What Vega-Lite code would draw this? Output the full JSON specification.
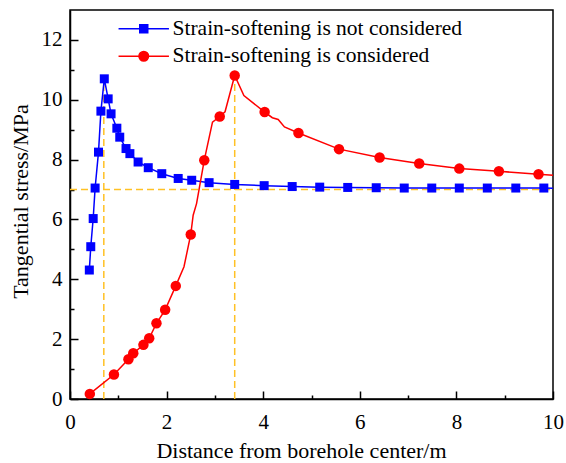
{
  "$schema": "https://vega.github.io/schema/vega-lite/v6.json",
  "width": 483,
  "height": 389,
  "autosize": "none",
  "padding": {"left": 70, "top": 10, "right": 13, "bottom": 64},
  "background": "white",
  "config": {
    "view": {"stroke": "black", "strokeWidth": 1.5},
    "font": "'Liberation Serif', 'Times New Roman', Times, serif",
    "axis": {
      "labelFont": "'Liberation Serif', 'Times New Roman', Times, serif",
      "titleFont": "'Liberation Serif', 'Times New Roman', Times, serif",
      "labelColor": "black",
      "titleColor": "black",
      "domainColor": "black",
      "tickColor": "black",
      "grid": false,
      "labelFlush": false,
      "labelFontSize": 21,
      "titleFontSize": 22,
      "titleFontWeight": "normal",
      "domainWidth": 1.5,
      "tickWidth": 1.5
    }
  },
  "datasets": {
    "stress": [
      {"series": "Strain-softening is not considered", "kind": "marker", "x": 0.40, "y": 4.31},
      {"series": "Strain-softening is not considered", "kind": "marker", "x": 0.43, "y": 5.09},
      {"series": "Strain-softening is not considered", "kind": "marker", "x": 0.48, "y": 6.03},
      {"series": "Strain-softening is not considered", "kind": "marker", "x": 0.52, "y": 7.05},
      {"series": "Strain-softening is not considered", "kind": "marker", "x": 0.59, "y": 8.25},
      {"series": "Strain-softening is not considered", "kind": "marker", "x": 0.64, "y": 9.62},
      {"series": "Strain-softening is not considered", "kind": "marker", "x": 0.71, "y": 10.70},
      {"series": "Strain-softening is not considered", "kind": "marker", "x": 0.79, "y": 10.03},
      {"series": "Strain-softening is not considered", "kind": "marker", "x": 0.85, "y": 9.53},
      {"series": "Strain-softening is not considered", "kind": "marker", "x": 0.97, "y": 9.05},
      {"series": "Strain-softening is not considered", "kind": "marker", "x": 1.03, "y": 8.75},
      {"series": "Strain-softening is not considered", "kind": "marker", "x": 1.16, "y": 8.37},
      {"series": "Strain-softening is not considered", "kind": "marker", "x": 1.24, "y": 8.20},
      {"series": "Strain-softening is not considered", "kind": "marker", "x": 1.41, "y": 7.92},
      {"series": "Strain-softening is not considered", "kind": "marker", "x": 1.62, "y": 7.73},
      {"series": "Strain-softening is not considered", "kind": "marker", "x": 1.90, "y": 7.53},
      {"series": "Strain-softening is not considered", "kind": "marker", "x": 2.24, "y": 7.37},
      {"series": "Strain-softening is not considered", "kind": "marker", "x": 2.52, "y": 7.31},
      {"series": "Strain-softening is not considered", "kind": "marker", "x": 2.88, "y": 7.23},
      {"series": "Strain-softening is not considered", "kind": "marker", "x": 3.41, "y": 7.17},
      {"series": "Strain-softening is not considered", "kind": "marker", "x": 4.02, "y": 7.13},
      {"series": "Strain-softening is not considered", "kind": "marker", "x": 4.60, "y": 7.10},
      {"series": "Strain-softening is not considered", "kind": "marker", "x": 5.17, "y": 7.08},
      {"series": "Strain-softening is not considered", "kind": "marker", "x": 5.75, "y": 7.07},
      {"series": "Strain-softening is not considered", "kind": "marker", "x": 6.34, "y": 7.06},
      {"series": "Strain-softening is not considered", "kind": "marker", "x": 6.92, "y": 7.05},
      {"series": "Strain-softening is not considered", "kind": "marker", "x": 7.49, "y": 7.05},
      {"series": "Strain-softening is not considered", "kind": "marker", "x": 8.06, "y": 7.05},
      {"series": "Strain-softening is not considered", "kind": "marker", "x": 8.64, "y": 7.05},
      {"series": "Strain-softening is not considered", "kind": "marker", "x": 9.23, "y": 7.05},
      {"series": "Strain-softening is not considered", "kind": "marker", "x": 9.81, "y": 7.05},
      {"series": "Strain-softening is not considered", "kind": "bend", "x": 10.0, "y": 7.04},
      {"series": "Strain-softening is considered", "kind": "marker", "x": 0.41, "y": 0.17},
      {"series": "Strain-softening is considered", "kind": "marker", "x": 0.91, "y": 0.82},
      {"series": "Strain-softening is considered", "kind": "marker", "x": 1.21, "y": 1.33},
      {"series": "Strain-softening is considered", "kind": "marker", "x": 1.31, "y": 1.53},
      {"series": "Strain-softening is considered", "kind": "marker", "x": 1.52, "y": 1.81},
      {"series": "Strain-softening is considered", "kind": "marker", "x": 1.64, "y": 2.03},
      {"series": "Strain-softening is considered", "kind": "marker", "x": 1.79, "y": 2.53},
      {"series": "Strain-softening is considered", "kind": "marker", "x": 1.97, "y": 2.98},
      {"series": "Strain-softening is considered", "kind": "marker", "x": 2.19, "y": 3.78},
      {"series": "Strain-softening is considered", "kind": "bend", "x": 2.36, "y": 4.42},
      {"series": "Strain-softening is considered", "kind": "marker", "x": 2.50, "y": 5.50},
      {"series": "Strain-softening is considered", "kind": "bend", "x": 2.55, "y": 6.14},
      {"series": "Strain-softening is considered", "kind": "bend", "x": 2.62, "y": 6.53},
      {"series": "Strain-softening is considered", "kind": "marker", "x": 2.78, "y": 7.98},
      {"series": "Strain-softening is considered", "kind": "bend", "x": 2.95, "y": 9.25},
      {"series": "Strain-softening is considered", "kind": "marker", "x": 3.10, "y": 9.44},
      {"series": "Strain-softening is considered", "kind": "bend", "x": 3.21, "y": 9.60},
      {"series": "Strain-softening is considered", "kind": "marker", "x": 3.41, "y": 10.81},
      {"series": "Strain-softening is considered", "kind": "bend", "x": 3.60, "y": 10.14},
      {"series": "Strain-softening is considered", "kind": "marker", "x": 4.03, "y": 9.59},
      {"series": "Strain-softening is considered", "kind": "bend", "x": 4.19, "y": 9.40},
      {"series": "Strain-softening is considered", "kind": "bend", "x": 4.31, "y": 9.34},
      {"series": "Strain-softening is considered", "kind": "bend", "x": 4.44, "y": 9.09},
      {"series": "Strain-softening is considered", "kind": "marker", "x": 4.73, "y": 8.89},
      {"series": "Strain-softening is considered", "kind": "marker", "x": 5.57, "y": 8.35},
      {"series": "Strain-softening is considered", "kind": "marker", "x": 6.41, "y": 8.07},
      {"series": "Strain-softening is considered", "kind": "marker", "x": 7.23, "y": 7.87},
      {"series": "Strain-softening is considered", "kind": "marker", "x": 8.06, "y": 7.70},
      {"series": "Strain-softening is considered", "kind": "marker", "x": 8.88, "y": 7.61},
      {"series": "Strain-softening is considered", "kind": "marker", "x": 9.70, "y": 7.51},
      {"series": "Strain-softening is considered", "kind": "bend", "x": 10.0, "y": 7.48}
    ],
    "guides": [
      {"x0": 0.70, "x1": 0.70, "y0": 0, "y1": 10.70},
      {"x0": 3.41, "x1": 3.41, "y0": 0, "y1": 10.81},
      {"x0": 0, "x1": 10, "y0": 7.0, "y1": 7.0}
    ]
  },
  "resolve": {"axis": {"x": "independent", "y": "independent"}},
  "layer": [
    {
      "data": {"name": "guides"},
      "mark": {"type": "rule", "color": "#FFC125", "strokeDash": [7, 4], "strokeWidth": 1.5},
      "encoding": {
        "x": {"field": "x0", "type": "quantitative", "scale": {"domain": [0, 10], "nice": false},
          "axis": {"orient": "bottom", "values": [1, 3, 5, 7, 9], "labels": false, "domain": false, "tickSize": -4, "title": null}},
        "x2": {"field": "x1"},
        "y": {"field": "y0", "type": "quantitative", "scale": {"domain": [0, 13], "nice": false},
          "axis": {"orient": "left", "values": [1, 3, 5, 7, 9, 11], "labels": false, "domain": false, "tickSize": -4, "title": null}},
        "y2": {"field": "y1"}
      }
    },
    {
      "data": {"name": "stress"},
      "transform": [{"filter": "datum.series == 'Strain-softening is not considered'"}],
      "mark": {"type": "line", "color": "#0000FF", "strokeWidth": 1.5},
      "encoding": {
        "x": {"field": "x", "type": "quantitative", "scale": {"domain": [0, 10], "nice": false},
          "axis": {"orient": "bottom", "values": [0, 2, 4, 6, 8, 10], "tickSize": -8, "labelPadding": 20, "title": "Distance from borehole center/m", "titlePadding": 8, "titleX": 231}},
        "y": {"field": "y", "type": "quantitative", "scale": {"domain": [0, 13], "nice": false},
          "axis": {"orient": "left", "values": [0, 2, 4, 6, 8, 10, 12], "tickSize": -8, "labelPadding": 16, "title": "Tangential stress/MPa", "titlePadding": 9, "titleY": 191}}
      }
    },
    {
      "data": {"name": "stress"},
      "transform": [{"filter": "datum.series == 'Strain-softening is considered'"}],
      "mark": {"type": "line", "color": "#FF0000", "strokeWidth": 1.5},
      "encoding": {
        "x": {"field": "x", "type": "quantitative", "axis": null},
        "y": {"field": "y", "type": "quantitative", "axis": null}
      }
    },
    {
      "data": {"name": "stress"},
      "transform": [{"filter": "datum.series == 'Strain-softening is not considered' && datum.kind == 'marker'"}],
      "mark": {"type": "point", "shape": "square", "filled": true, "size": 81, "color": "#0000FF", "opacity": 1},
      "encoding": {
        "x": {"field": "x", "type": "quantitative", "axis": null},
        "y": {"field": "y", "type": "quantitative", "axis": null}
      }
    },
    {
      "data": {"name": "stress"},
      "transform": [{"filter": "datum.series == 'Strain-softening is considered' && datum.kind == 'marker'"}],
      "mark": {"type": "point", "shape": "circle", "filled": true, "size": 110, "color": "#FF0000", "opacity": 1},
      "encoding": {
        "x": {"field": "x", "type": "quantitative", "axis": null},
        "y": {"field": "y", "type": "quantitative", "axis": null}
      }
    },
    {
      "data": {"name": "stress"},
      "transform": [{"filter": "datum.kind == 'marker'"}],
      "mark": {"type": "point", "filled": true, "opacity": 0},
      "encoding": {
        "x": {"field": "x", "type": "quantitative", "axis": null},
        "y": {"field": "y", "type": "quantitative", "axis": null},
        "color": {
          "field": "series", "type": "nominal",
          "scale": {"domain": ["Strain-softening is not considered", "Strain-softening is considered"], "range": ["#0000FF", "#FF0000"]},
          "legend": {
            "title": null, "orient": "none", "legendX": 63, "legendY": 8, "padding": 0,
            "symbolSize": 64, "labelFontSize": 21.5, "labelFont": "'Liberation Serif', 'Times New Roman', Times, serif", "labelColor": "black",
            "labelOffset": 18, "labelLimit": 0, "rowPadding": 4.5, "symbolOpacity": 1, "symbolStrokeWidth": 1.5,
            "encode": {"symbols": {"update": {"stroke": {"scale": "color", "field": "value"}, "opacity": {"value": 1}, "strokeWidth": {"value": 1.5}}}}
          }
        },
        "shape": {
          "field": "series", "type": "nominal",
          "scale": {"domain": ["Strain-softening is not considered", "Strain-softening is considered"],
            "range": ["M-6.3,0H6.3M-1,-1H1V1H-1Z", "M-6.3,0H6.3M1.2,0A1.2,1.2,0,1,1,-1.2,0A1.2,1.2,0,1,1,1.2,0Z"]}
        }
      }
    }
  ]
}
